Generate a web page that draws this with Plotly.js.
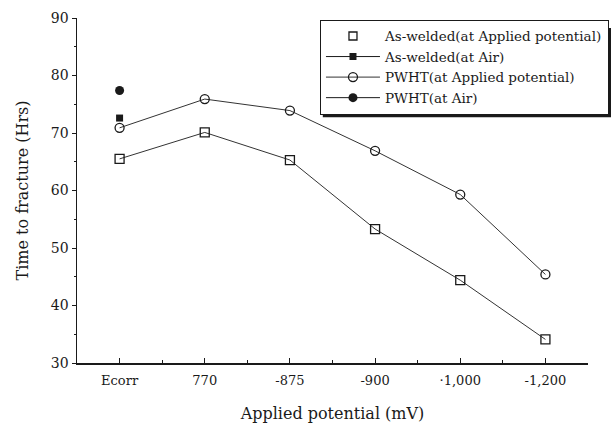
<!DOCTYPE html>
<html>
<head>
<meta charset="utf-8">
<script src="https://cdn.plot.ly/plotly-3.0.1.min.js"></script>
<style>html,body{margin:0;padding:0;background:#fff;}#chart{width:611px;height:437px;}</style>
</head>
<body>
<div id="chart"></div>
<script>
const categories = ["Ecorr", "770", "-875", "-900", "\u00b71,000", "-1,200"];
const asWeldedApplied = [65.5, 70.1, 65.3, 53.3, 44.4, 34.1];
const pwhtApplied = [70.9, 75.9, 73.9, 66.9, 59.3, 45.4];
const asWeldedAirCat = ["Ecorr"];
const asWeldedAir = [72.6];
const pwhtAirCat = ["Ecorr"];
const pwhtAir = [77.4];
const yTicks = [30, 40, 50, 60, 70, 80, 90];

const idx = c => categories.indexOf(c);
const xs = categories.map(idx);
const ink = "#1a1a1a";
const serif = "DejaVu Serif, Liberation Serif, serif";

const traces = [
  {x: xs, y: asWeldedApplied, mode: "lines+markers", showlegend: false,
   line: {color: "#333", width: 1}, marker: {symbol: "square-open", size: 9, color: ink, line: {width: 1.3}}},
  {x: [null], y: [null], mode: "markers", name: "As-welded(at Applied potential)",
   marker: {symbol: "square-open", size: 8, color: ink, line: {width: 1.3}}},
  {x: asWeldedAirCat.map(idx), y: asWeldedAir, mode: "lines+markers", name: "As-welded(at Air)",
   line: {color: ink, width: 1}, marker: {symbol: "square", size: 7, color: ink}},
  {x: xs, y: pwhtApplied, mode: "lines+markers", name: "PWHT(at Applied potential)",
   line: {color: "#333", width: 1}, marker: {symbol: "circle-open", size: 9, color: ink, line: {width: 1.3}}},
  {x: pwhtAirCat.map(idx), y: pwhtAir, mode: "lines+markers", name: "PWHT(at Air)",
   line: {color: ink, width: 1}, marker: {symbol: "circle", size: 9, color: ink}}
];

const layout = {
  width: 611, height: 437,
  margin: {l: 77, r: 23, t: 18, b: 74, autoexpand: false},
  paper_bgcolor: "#fff", plot_bgcolor: "rgba(0,0,0,0)",
  font: {family: serif, size: 13, color: ink},
  xaxis: {
    type: "linear", range: [-0.5, 5.5],
    tickvals: xs, ticktext: categories,
    ticks: "inside", ticklen: 5, tickcolor: ink,
    minor: {dtick: 0.5, tick0: 0, ticks: "inside", ticklen: 3, tickcolor: ink, showgrid: false},
    showgrid: false, zeroline: false, showline: true, linecolor: ink, linewidth: 1.5,
    ticklabelstandoff: 5,
    tickfont: {family: serif, size: 13, color: ink},
    title: {text: "Applied potential (mV)", font: {family: serif, size: 16, color: ink}, standoff: 20}
  },
  yaxis: {
    range: [30, 90], tickvals: yTicks,
    ticks: "outside", ticklen: 4, tickcolor: ink,
    minor: {dtick: 5, tick0: 30, ticks: "outside", ticklen: 2, tickcolor: ink, showgrid: false},
    showgrid: false, zeroline: false, showline: true, linecolor: ink, linewidth: 1.5,
    tickfont: {family: serif, size: 14, color: ink},
    title: {text: "Time to fracture (Hrs)", font: {family: serif, size: 16, color: ink}, standoff: 18}
  },
  legend: {
    x: 0.4755, y: 0.995, xanchor: "left", yanchor: "top",
    bgcolor: "#fff", bordercolor: ink, borderwidth: 1,
    font: {family: serif, size: 13.5, color: ink},
    tracegroupgap: 0, itemwidth: 54
  },
  shapes: [
    {type: "rect", xref: "paper", yref: "paper", x0: 0.481, x1: 1.049, y0: 0.712, y1: 0.971,
     fillcolor: ink, line: {width: 0}, layer: "below"}
  ]
};

Plotly.newPlot("chart", traces, layout, {displayModeBar: false, staticPlot: true});
</script>
</body>
</html>
